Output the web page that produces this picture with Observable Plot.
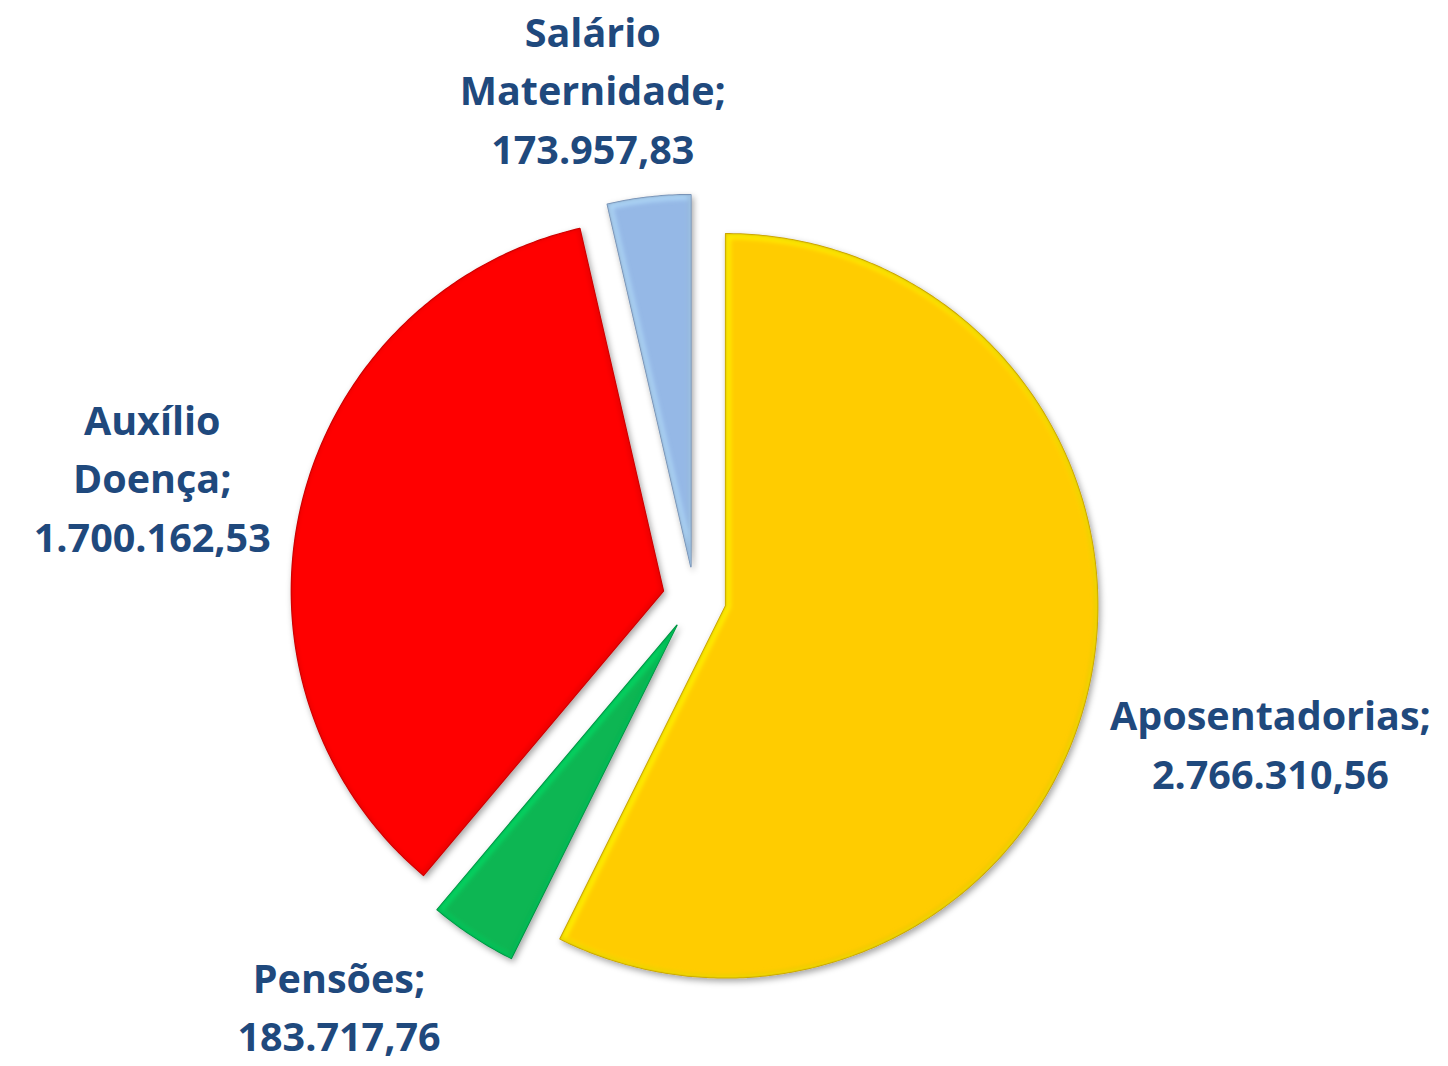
<!DOCTYPE html>
<html>
<head>
<meta charset="utf-8">
<script src="https://cdn.jsdelivr.net/npm/d3@7"></script>
<script src="https://cdn.jsdelivr.net/npm/@observablehq/plot@0.6"></script>
<style>
  html, body { margin: 0; padding: 0; background: #ffffff; }
  #chart { width: 1448px; height: 1066px; }
</style>
</head>
<body>
<div id="chart"></div>
<script>
// ---- data ----
const categories = ["Aposentadorias", "Pensões", "Auxílio Doença", "Salário Maternidade"];
const values = [2766310.56, 183717.76, 1700162.53, 173957.83];
const labelNames = [["Aposentadorias;"], ["Pensões;"], ["Auxílio", "Doença;"], ["Salário", "Maternidade;"]];
const colors = ["#FFCC00", "#07B653", "#FF0606", "#95B8E6"];

// ---- layout ----
const W = 1448, H = 1066;
const cx = 694, cy = 598, R = 372;      // pie centre / radius in px
const explodePx = 32;
const fontSize = 39.5, lineHeight = 1.485, gap = 18, baselineShift = 7;
const fontFamily = "'Open Sans', Lato, sans-serif";
const textColor = "#1F497D";

const fmt = d3.formatLocale({decimal: ",", thousands: ".", grouping: [3], currency: ["", ""]}).format(",.2f");

const data = categories.map((c, i) => ({category: c, value: values[i], names: labelNames[i]}));
const arcs = d3.pie().sort(null).value(d => d.value)(data);

const xDomain = [-cx / R, (W - cx) / R];
const yDomain = [-(H - cy) / R, cy / R];
const ex = explodePx / R;

// slice outlines (unit coordinates, y up)
const slicePts = [];
arcs.forEach(a => {
  const mid = (a.startAngle + a.endAngle) / 2;
  const ox = ex * Math.sin(mid), oy = ex * Math.cos(mid);
  slicePts.push({category: a.data.category, x: ox, y: oy});
  const n = Math.max(4, Math.ceil((a.endAngle - a.startAngle) / 0.01));
  for (let k = 0; k <= n; ++k) {
    const t = a.startAngle + (a.endAngle - a.startAngle) * k / n;
    slicePts.push({category: a.data.category, x: ox + Math.sin(t), y: oy + Math.cos(t)});
  }
});

// label placement (outside end, rotated towards the horizontal / clamped to stay inside)
const ctx = document.createElement("canvas").getContext("2d");
ctx.font = `bold ${fontSize}px ${fontFamily}`;
const labels = arcs.map(a => {
  const lines = [...a.data.names, fmt(a.data.value)];
  const w = d3.max(lines, l => ctx.measureText(l).width);
  const h = lines.length * fontSize * lineHeight;
  const mid = (a.startAngle + a.endAngle) / 2;
  const place = ang => {
    const dx = Math.sin(ang), dy = Math.cos(ang);
    const s = Math.abs(dx) * w / 2 + Math.abs(dy) * h / 2;
    const dist = R + explodePx + gap + s;
    return {px: cx + dist * dx, py: cy - dist * dy + baselineShift};
  };
  const fits = p => p.px - w / 2 >= 0 && p.px + w / 2 <= W && p.py - h / 2 >= -2 && p.py + h / 2 <= H - 3;
  const sgn = Math.sign(Math.sin(mid) * Math.cos(mid)) || 1;
  let p = place(mid);
  if (!fits(p)) {
    let found = null;
    for (let d = 0.5; d <= 12 && !found; d += 0.5) {
      const q = place(mid + sgn * d * Math.PI / 180);
      if (fits(q)) found = q;
    }
    if (found) p = found;
    else {
      p = place(mid + sgn * 4.5 * Math.PI / 180);
      p.px = Math.min(Math.max(p.px, w / 2), W - w / 2);
      p.py = Math.min(Math.max(p.py, h / 2 - 2), H - h / 2 - 3);
    }
  }
  return {text: lines.join("\n"), x: (p.px - cx) / R, y: (cy - p.py) / R};
});

const chart = Plot.plot({
  width: W,
  height: H,
  margin: 0,
  x: {domain: xDomain, axis: null},
  y: {domain: yDomain, axis: null},
  color: {domain: categories, range: colors},
  marks: [
    Plot.line(slicePts, {
      x: "x", y: "y", z: "category",
      fill: "category",
      stroke: "category",
      strokeWidth: 1.5,
      curve: "linear-closed"
    }),
    Plot.text(labels, {
      x: "x", y: "y", text: "text",
      fontSize, fontWeight: "bold", fontFamily,
      fill: textColor,
      lineHeight,
      textAnchor: "middle",
      lineAnchor: "middle"
    })
  ]
});

// visual effects: drop shadow, darker edge and a soft inner bevel
const svg = d3.select(chart);
const defs = svg.insert("defs", ":first-child");
const f = defs.append("filter").attr("id", "shadow").attr("x", "-10%").attr("y", "-10%").attr("width", "120%").attr("height", "120%");
f.append("feDropShadow").attr("dx", 2).attr("dy", 3).attr("stdDeviation", 3).attr("flood-color", "#000").attr("flood-opacity", 0.35);
const blur = defs.append("filter").attr("id", "soft");
blur.append("feGaussianBlur").attr("stdDeviation", 2);
svg.selectAll('g[aria-label="line"] path').each(function(_, i) {
  const c = d3.color(this.getAttribute("fill"));
  this.setAttribute("filter", "url(#shadow)");
  if (c) this.setAttribute("stroke", c.darker(0.7).formatHex());
  const d = this.getAttribute("d");
  defs.append("clipPath").attr("id", "clip" + i).append("path").attr("d", d);
  const g = d3.select(this.parentNode).append("g").attr("clip-path", `url(#clip${i})`).attr("filter", "url(#soft)");
  g.append("path").attr("d", d).attr("fill", "none")
    .attr("stroke", c ? c.brighter(0.6).formatHex() : "#fff").attr("stroke-width", 8).attr("stroke-opacity", 0.7)
    .attr("transform", "translate(1,1)");
  g.append("path").attr("d", d).attr("fill", "none")
    .attr("stroke", c ? c.darker(0.5).formatHex() : "#000").attr("stroke-width", 4).attr("stroke-opacity", 0.5)
    .attr("transform", "translate(-1,-1)");
});

document.getElementById("chart").appendChild(chart);
</script>
</body>
</html>
